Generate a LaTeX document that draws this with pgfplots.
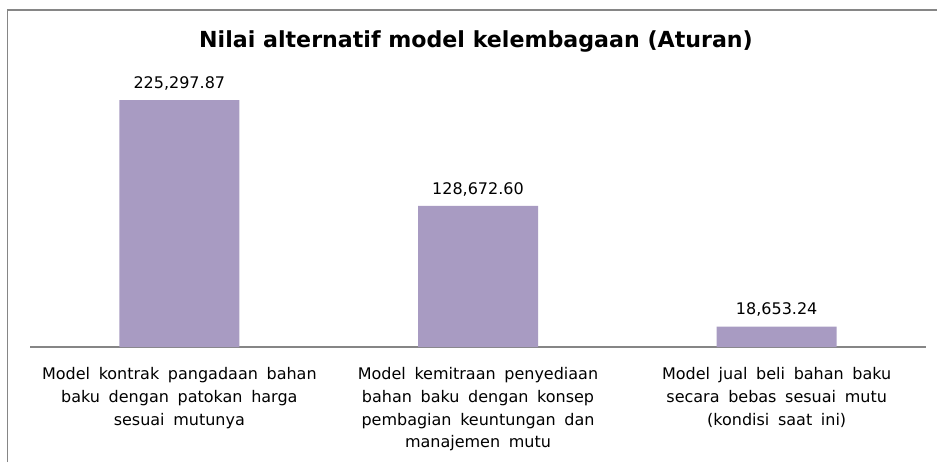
\documentclass[border=0pt]{standalone}
\usepackage{pgfplots}
\pgfplotsset{compat=1.18}
\usepackage{pgfplotstable}
\usepackage{fontspec}
\setmainfont{DejaVu Sans}
\newfontfamily\labfont[WordSpace=1.7]{DejaVu Sans}
\definecolor{barc}{RGB}{168,155,194}
\definecolor{axc}{RGB}{134,134,134}
\pgfplotstableread{
x y lab
0 225297.87 225,297.87
1 128672.60 128,672.60
2 18653.24 18,653.24
}\data
\begin{document}
\begin{tikzpicture}
\path[use as bounding box] (0pt,0pt) rectangle (702.75pt,346.5pt);
\draw[axc, line width=0.9pt] (5.6pt,0pt) -- (5.6pt,339pt) -- (702.75pt,339pt);
\node[font=\bfseries\fontsize{16.6}{20}\selectfont] at (357pt,315.5pt) {Nilai alternatif model kelembagaan (Aturan)};
\begin{axis}[at={(22.5pt,86.25pt)}, anchor=south west,
  scale only axis, width=672pt, height=213.75pt,
  xmin=-0.5, xmax=2.5, ymin=0, ymax=260000,
  hide y axis, axis x line*=bottom,
  x axis line style={axc, line width=0.9pt},
  xtick={0,1,2}, major tick length=0,
  xticklabels={{Model kontrak pangadaan bahan\\baku dengan patokan harga\\sesuai mutunya},
                {Model kemitraan penyediaan\\bahan baku dengan konsep\\pembagian keuntungan dan\\manajemen mutu},
                {Model jual beli bahan baku\\secara bebas sesuai mutu\\(kondisi saat ini)}},
  xticklabel style={align=center, font=\labfont\fontsize{12}{17}\selectfont, yshift=-12pt},
  ybar, bar width=90pt,
  point meta=explicit symbolic,
  nodes near coords,
  nodes near coords style={font=\fontsize{12}{14}\selectfont, yshift=4pt},
  clip=false]
\addplot[fill=barc, draw=none] table[x=x, y=y, meta=lab] {\data};
\end{axis}
\end{tikzpicture}
\end{document}
